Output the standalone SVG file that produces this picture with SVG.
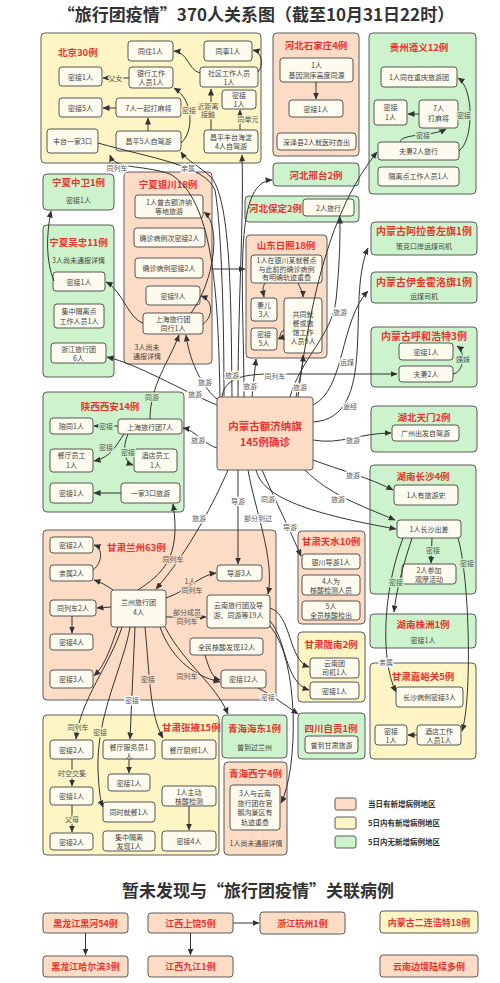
<svg xmlns="http://www.w3.org/2000/svg" width="500" height="983" viewBox="0 0 500 983">
<defs>
<marker id="a" markerWidth="7" markerHeight="6" refX="6.5" refY="3" orient="auto" markerUnits="userSpaceOnUse"><path d="M0,0 L7,3 L0,6 z" fill="#333"/></marker>
<style>
text{font-family:"Noto Sans CJK SC","Noto Sans",sans-serif}
.rp{fill:#fcdcc5;stroke:#5a5a5a;stroke-width:1}
.ry{fill:#fdf6c4;stroke:#5a5a5a;stroke-width:1}
.rg{fill:#ccf3cc;stroke:#5a5a5a;stroke-width:1}
.n{fill:#fdfbee;stroke:#555;stroke-width:1}
.t{font-size:7px;fill:#444;text-anchor:middle}
.h{font-size:9.5px;font-weight:bold;fill:#e8332e;text-anchor:middle}
.hs{text-anchor:start}
.hb{font-size:10px}
.l{font-size:7px;fill:#555;text-anchor:middle;paint-order:stroke;stroke-width:2.5px;stroke-linejoin:round}
.lw{stroke:#fff}.ly{stroke:#fdf6c4}.lp{stroke:#fcdcc5}.lg{stroke:#ccf3cc}
.c path{fill:none;stroke:#333;stroke-width:1;marker-end:url(#a)}
.c path.nm{marker-end:none}
.lg2{font-size:7.5px;font-weight:bold;fill:#333}
.b{font-size:9px;font-weight:bold;fill:#e8332e;text-anchor:middle}
</style>
</defs>
<rect width="500" height="983" fill="#fff"/>
<text x="256" y="21" font-size="17" font-weight="bold" fill="#333" text-anchor="middle">“旅行团疫情”370人关系图（截至10月31日22时）</text>

<!-- Beijing -->
<g id="beijing">
<rect class="ry" x="41" y="33" width="220" height="130" rx="4"/>
<text class="h hs" x="58" y="56">北京30例</text>
<g id="bj-tongzhu"><rect class="n" x="128" y="41" width="45" height="20" rx="3"/><text class="t" x="150.5" y="54">同住1人</text></g>
<g id="bj-tongshi"><rect class="n" x="204" y="41" width="48" height="20" rx="3"/><text class="t" x="228" y="54">同事1人</text></g>
<g id="bj-mj1a"><rect class="n" x="59" y="67" width="43" height="19" rx="3"/><text class="t" x="80.5" y="79.5">密接1人</text></g>
<g id="bj-yinhang"><rect class="n" x="129" y="67" width="44" height="21" rx="3"/><text class="t" x="151" y="76">银行工作</text><text class="t" x="151" y="85">人员1人</text></g>
<g id="bj-shequ"><rect class="n" x="200" y="67" width="58" height="20" rx="3"/><text class="t" x="229" y="75.5">社区工作人员</text><text class="t" x="229" y="84.5">1人</text></g>
<g id="bj-mj1b"><rect class="n" x="222" y="90" width="34" height="19" rx="3"/><text class="t" x="239" y="98">密接</text><text class="t" x="239" y="106.5">1人</text></g>
<g id="bj-mj5"><rect class="n" x="59" y="98" width="43" height="19" rx="3"/><text class="t" x="80.5" y="110.5">密接5人</text></g>
<g id="bj-majiang"><rect class="n" x="116" y="98" width="65" height="19" rx="3"/><text class="t" x="148.5" y="110.5">7人一起打麻将</text></g>
<g id="bj-fengtai"><rect class="n" x="47" y="129" width="51" height="24" rx="3"/><text class="t" x="72.5" y="144">丰台一家3口</text></g>
<g id="bj-changping"><rect class="n" x="116" y="131" width="65" height="20" rx="3"/><text class="t" x="148.5" y="144">昌平5人自驾游</text></g>
<g id="bj-cpft"><rect class="n" x="204" y="130" width="54" height="23" rx="3"/><text class="t" x="231" y="139.5">昌平丰台海淀</text><text class="t" x="231" y="149">4人自驾游</text></g>
</g>

<!-- Hebei Shijiazhuang -->
<g id="shijiazhuang">
<rect class="rp" x="273" y="33" width="86" height="123" rx="4"/>
<text class="h" x="316" y="49">河北石家庄4例</text>
<g id="sj-1"><rect class="n" x="280" y="58" width="73" height="24" rx="3"/><text class="t" x="316.5" y="67.5">1人</text><text class="t" x="316.5" y="78">基因测序高度同源</text></g>
<g id="sj-mj"><rect class="n" x="289" y="100" width="54" height="17" rx="3"/><text class="t" x="316" y="111.5">密接1人</text></g>
<g id="sj-sz"><rect class="n" x="277" y="133" width="79" height="17" rx="3"/><text class="t" x="316.5" y="144.5">深泽县2人就医时查出</text></g>
</g>

<!-- Guizhou -->
<g id="guizhou">
<rect class="rg" x="369" y="33" width="107" height="161" rx="4"/>
<text class="h" x="419" y="51">贵州遵义12例</text>
<g id="gz-cq"><rect class="n" x="381" y="67" width="76" height="20" rx="3"/><text class="t" x="419" y="80">1人同在重庆旅游团</text></g>
<g id="gz-mj"><rect class="n" x="374" y="100" width="33" height="25" rx="3"/><text class="t" x="390.5" y="110">密接</text><text class="t" x="390.5" y="120">1人</text></g>
<g id="gz-mjiang"><rect class="n" x="419" y="100" width="39" height="28" rx="3"/><text class="t" x="438.5" y="111">7人</text><text class="t" x="438.5" y="121">打麻将</text></g>
<g id="gz-fq"><rect class="n" x="378" y="142" width="81" height="18" rx="3"/><text class="t" x="418.5" y="154">夫妻2人旅行</text></g>
<g id="gz-gl"><rect class="n" x="378" y="167" width="81" height="19" rx="3"/><text class="t" x="418.5" y="179">隔离点工作人员1人</text></g>
</g>

<g id="xingtai"><rect class="rg" x="273" y="163" width="86" height="23" rx="4"/><text class="h" x="316" y="179">河北邢台2例</text></g>
<g id="baoding"><rect class="rg" x="245" y="196" width="114" height="26" rx="4"/><text class="h hs" x="249" y="212">河北保定2例</text>
<g id="bd-2"><rect class="n" x="303" y="199" width="51" height="17" rx="3"/><text class="t" x="328.5" y="210.5">2人旅行</text></g></g>

<!-- Ningxia -->
<g id="zhongwei"><rect class="rg" x="43" y="174" width="71" height="36" rx="4"/><text class="h" x="78.5" y="186">宁夏中卫1例</text><text class="t" x="78.5" y="203">密接1人</text></g>
<g id="wuzhong"><rect class="rg" x="43" y="225" width="71" height="152" rx="4"/><text class="h" x="78.5" y="246">宁夏吴忠11例</text><text class="t" x="78.5" y="263">3人尚未通报详情</text>
<g id="wz-mj"><rect class="n" x="53" y="272" width="52" height="19" rx="3"/><text class="t" x="79" y="284.5">密接1人</text></g>
<g id="wz-gl"><rect class="n" x="54" y="304" width="50" height="24" rx="3"/><text class="t" x="79" y="314">集中隔离点</text><text class="t" x="79" y="324">工作人员1人</text></g>
<g id="wz-zj"><rect class="n" x="51" y="343" width="55" height="20" rx="3"/><text class="t" x="78.5" y="351.5">浙江旅行团</text><text class="t" x="78.5" y="360.5">6人</text></g>
</g>
<g id="yinchuan"><rect class="rp" x="124" y="172" width="88" height="192" rx="4"/><text class="h" x="168" y="188">宁夏银川18例</text>
<g id="yc-1"><rect class="n" x="135" y="195" width="68" height="23" rx="3"/><text class="t" x="169" y="204.5">1人曾去额济纳</text><text class="t" x="169" y="214">等地旅游</text></g>
<g id="yc-2"><rect class="n" x="134" y="228" width="71" height="19" rx="3"/><text class="t" x="169.5" y="240.5">确诊病例次密接2人</text></g>
<g id="yc-3"><rect class="n" x="135" y="258" width="68" height="20" rx="3"/><text class="t" x="169" y="271">确诊病例密接2人</text></g>
<g id="yc-4"><rect class="n" x="146" y="286" width="54" height="19" rx="3"/><text class="t" x="173" y="298.5">密接9人</text></g>
<g id="yc-5"><rect class="n" x="143" y="313" width="60" height="21" rx="3"/><text class="t" x="173" y="321.5">上海旅行团</text><text class="t" x="173" y="330.5">同行1人</text></g>
<text class="t" x="147" y="350">3人尚未</text><text class="t" x="147" y="359">通报详情</text>
</g>

<!-- Shandong -->
<g id="shandong"><rect class="rp" x="246" y="235" width="81" height="123" rx="4"/><text class="h" x="286" y="249">山东日照18例</text>
<g id="sd-1"><rect class="n" x="251" y="255" width="71" height="28" rx="3"/><text class="t" x="286.5" y="263">1人在银川某就餐点</text><text class="t" x="286.5" y="271.5">与此前的确诊病例</text><text class="t" x="286.5" y="280">有明确轨迹重叠</text></g>
<g id="sd-2"><rect class="n" x="251" y="298" width="26" height="23" rx="3"/><text class="t" x="264" y="307.5">妻儿</text><text class="t" x="264" y="317">3人</text></g>
<g id="sd-3"><rect class="n" x="284" y="298" width="38" height="55" rx="3"/><text class="t" x="303" y="317">共同就</text><text class="t" x="303" y="326">餐或旅</text><text class="t" x="303" y="335">馆工作</text><text class="t" x="303" y="344">人员9人</text></g>
<g id="sd-4"><rect class="n" x="251" y="328" width="26" height="22" rx="3"/><text class="t" x="264" y="337">密接</text><text class="t" x="264" y="346">5人</text></g>
</g>

<!-- Inner Mongolia right -->
<g id="alashan"><rect class="rg" x="371" y="222" width="106" height="33" rx="4"/><text class="h hb" x="424" y="235">内蒙古阿拉善左旗1例</text><text class="t" x="424" y="249">策克口岸运煤司机</text></g>
<g id="yijinhuoluo"><rect class="rg" x="371" y="272" width="106" height="31" rx="4"/><text class="h hb" x="424" y="286">内蒙古伊金霍洛旗1例</text><text class="t" x="424" y="299">运煤司机</text></g>
<g id="huhehaote"><rect class="rg" x="371" y="327" width="106" height="60" rx="4"/><text class="h hb" x="424" y="340">内蒙古呼和浩特3例</text>
<g id="hh-mj"><rect class="n" x="399" y="343" width="54" height="17" rx="3"/><text class="t" x="426" y="354.5">密接1人</text></g>
<g id="hh-fq"><rect class="n" x="399" y="366" width="54" height="16" rx="3"/><text class="t" x="426" y="377">夫妻2人</text></g></g>
<g id="tianmen"><rect class="rg" x="371" y="406" width="106" height="46" rx="4"/><text class="h" x="424" y="421">湖北天门2例</text>
<g id="tm-gz"><rect class="n" x="392" y="425" width="67" height="16" rx="3"/><text class="t" x="425.5" y="436">广州出发自驾游</text></g></g>

<!-- Hunan -->
<g id="changsha"><rect class="rg" x="370" y="465" width="106" height="129" rx="4"/><text class="h" x="423" y="480">湖南长沙4例</text>
<g id="cs-1"><rect class="n" x="394" y="485" width="64" height="20" rx="3"/><text class="t" x="426" y="498">1人有旅游史</text></g>
<g id="cs-2"><rect class="n" x="397" y="520" width="64" height="18" rx="3"/><text class="t" x="429" y="532">1人长沙出差</text></g>
<g id="cs-3"><rect class="n" x="402" y="564" width="54" height="20" rx="3"/><text class="t" x="429" y="572.5">2人参加</text><text class="t" x="429" y="581.5">观摩活动</text></g></g>
<g id="zhuzhou"><rect class="rg" x="370" y="614" width="106" height="34" rx="4"/><text class="h" x="423" y="628">湖南株洲1例</text><text class="t" x="423" y="643">密接1人</text></g>
<g id="jiayuguan"><rect class="ry" x="370" y="663" width="106" height="96" rx="4"/><text class="h" x="423" y="680">甘肃嘉峪关5例</text>
<g id="jy-1"><rect class="n" x="396" y="687" width="67" height="20" rx="3"/><text class="t" x="429.5" y="700">长沙病例密接3人</text></g>
<g id="jy-2"><rect class="n" x="375" y="725" width="32" height="20" rx="3"/><text class="t" x="391" y="733.5">密接</text><text class="t" x="391" y="742.5">1人</text></g>
<g id="jy-3"><rect class="n" x="417" y="725" width="44" height="20" rx="3"/><text class="t" x="439" y="733.5">酒店工作</text><text class="t" x="439" y="742.5">人员1人</text></g></g>

<!-- Shaanxi -->
<g id="xian"><rect class="rg" x="43" y="392" width="141" height="120" rx="4"/><text class="h" x="110" y="410">陕西西安14例</text>
<g id="sx-pt"><rect class="n" x="50" y="418" width="43" height="16" rx="3"/><text class="t" x="71.5" y="429">陪同1人</text></g>
<g id="sx-sh"><rect class="n" x="118" y="419" width="64" height="15" rx="3"/><text class="t" x="150" y="429.5">上海旅行团7人</text></g>
<g id="sx-ct"><rect class="n" x="50" y="449" width="43" height="23" rx="3"/><text class="t" x="71.5" y="458">餐厅员工</text><text class="t" x="71.5" y="468">1人</text></g>
<g id="sx-jd"><rect class="n" x="134" y="449" width="43" height="23" rx="3"/><text class="t" x="155.5" y="458">酒店员工</text><text class="t" x="155.5" y="468">1人</text></g>
<g id="sx-mj"><rect class="n" x="50" y="483" width="43" height="20" rx="3"/><text class="t" x="71.5" y="496">密接1人</text></g>
<g id="sx-yj"><rect class="n" x="121" y="483" width="59" height="20" rx="3"/><text class="t" x="150.5" y="496">一家3口旅游</text></g></g>

<!-- Gansu Lanzhou -->
<g id="lanzhou"><rect class="rp" x="43" y="530" width="233" height="170" rx="4"/><text class="h hs" x="107" y="551">甘肃兰州63例</text>
<g id="lz-mj2"><rect class="n" x="50" y="537" width="43" height="16" rx="3"/><text class="t" x="71.5" y="548">密接2人</text></g>
<g id="lz-qs"><rect class="n" x="50" y="565" width="43" height="16" rx="3"/><text class="t" x="71.5" y="576">亲属2人</text></g>
<g id="lz-tlc"><rect class="n" x="50" y="600" width="46" height="16" rx="3"/><text class="t" x="73" y="611">同列车2人</text></g>
<g id="lz-mj4"><rect class="n" x="50" y="634" width="43" height="16" rx="3"/><text class="t" x="71.5" y="645">密接4人</text></g>
<g id="lz-mj3"><rect class="n" x="50" y="670" width="43" height="18" rx="3"/><text class="t" x="71.5" y="682">密接3人</text></g>
<g id="lz-lz"><rect class="n" x="111" y="590" width="55" height="37" rx="3"/><text class="t" x="138.5" y="605">兰州旅行团</text><text class="t" x="138.5" y="615">4人</text></g>
<g id="lz-dy"><rect class="n" x="217" y="565" width="45" height="16" rx="3"/><text class="t" x="239.5" y="576">导游3人</text></g>
<g id="lz-yn"><rect class="n" x="207" y="595" width="63" height="33" rx="3"/><text class="t" x="238.5" y="608">云南旅行团及导</text><text class="t" x="238.5" y="618">游、同游等19人</text></g>
<g id="lz-qm"><rect class="n" x="190" y="638" width="73" height="17" rx="3"/><text class="t" x="226.5" y="650">全民核酸发现12人</text></g>
<g id="lz-mj12"><rect class="n" x="221" y="670" width="45" height="18" rx="3"/><text class="t" x="243.5" y="682">密接12人</text></g></g>

<g id="tianshui"><rect class="rp" x="298" y="531" width="67" height="93" rx="4"/><text class="h" x="331" y="545">甘肃天水10例</text>
<g id="ts-1"><rect class="n" x="302" y="554" width="58" height="15" rx="3"/><text class="t" x="331" y="564.5">银川导游1人</text></g>
<g id="ts-2"><rect class="n" x="302" y="575" width="58" height="20" rx="3"/><text class="t" x="331" y="583.5">4人为</text><text class="t" x="331" y="592.5">核酸检测人员</text></g>
<g id="ts-3"><rect class="n" x="302" y="601" width="58" height="19" rx="3"/><text class="t" x="331" y="609">5人</text><text class="t" x="331" y="618">全员核酸检出</text></g></g>
<g id="longnan"><rect class="ry" x="298" y="632" width="67" height="70" rx="4"/><text class="h" x="331" y="648">甘肃陇南2例</text>
<g id="ln-1"><rect class="n" x="310" y="658" width="49" height="20" rx="3"/><text class="t" x="334.5" y="666">云南团</text><text class="t" x="334.5" y="675">司机1人</text></g>
<g id="ln-2"><rect class="n" x="310" y="682" width="49" height="17" rx="3"/><text class="t" x="334.5" y="693.5">密接1人</text></g></g>
<g id="zigong"><rect class="rg" x="298" y="713" width="67" height="46" rx="4"/><text class="h" x="331" y="732">四川自贡1例</text>
<g id="zg-1"><rect class="n" x="305" y="736" width="53" height="17" rx="3"/><text class="t" x="331.5" y="747.5">曾到甘肃旅游</text></g></g>
<g id="haidong"><rect class="rg" x="222" y="715" width="65" height="43" rx="4"/><text class="h" x="254.5" y="732">青海海东1例</text><text class="t" x="254.5" y="750">曾到过兰州</text></g>
<g id="xining"><rect class="rp" x="224" y="762" width="63" height="93" rx="4"/><text class="h" x="255.5" y="777">青海西宁4例</text>
<g id="xn-1"><rect class="n" x="230" y="785" width="50" height="45" rx="3"/><text class="t" x="255" y="796">3人与云南</text><text class="t" x="255" y="805.5">旅行团在官</text><text class="t" x="255" y="815">鹅沟景区有</text><text class="t" x="255" y="824.5">轨迹重叠</text></g>
<text class="t" x="256" y="846">1人尚未通报详情</text></g>

<!-- Zhangye -->
<g id="zhangye"><rect class="ry" x="43" y="715" width="176" height="140" rx="4"/><text class="h hs" x="162" y="731">甘肃张掖15例</text>
<g id="zy-1"><rect class="n" x="50" y="740" width="43" height="19" rx="3"/><text class="t" x="71.5" y="752.5">密接2人</text></g>
<g id="zy-2"><rect class="n" x="50" y="787" width="43" height="18" rx="3"/><text class="t" x="71.5" y="799">密接1人</text></g>
<g id="zy-3"><rect class="n" x="50" y="833" width="43" height="17" rx="3"/><text class="t" x="71.5" y="844.5">密接2人</text></g>
<g id="zy-4"><rect class="n" x="103" y="740" width="52" height="19" rx="3"/><text class="t" x="129" y="749.5">餐厅服务员1</text><text class="t" x="129" y="758.5">人</text></g>
<g id="zy-5"><rect class="n" x="108" y="774" width="42" height="17" rx="3"/><text class="t" x="129" y="785.5">密接1人</text></g>
<g id="zy-6"><rect class="n" x="103" y="802" width="52" height="20" rx="3"/><text class="t" x="129" y="815">同时就餐1人</text></g>
<g id="zy-7"><rect class="n" x="103" y="831" width="52" height="20" rx="3"/><text class="t" x="129" y="839.5">集中隔离</text><text class="t" x="129" y="848.5">发现1人</text></g>
<g id="zy-8"><rect class="n" x="162" y="740" width="54" height="19" rx="3"/><text class="t" x="189" y="752.5">餐厅厨师1人</text></g>
<g id="zy-9"><rect class="n" x="162" y="786" width="54" height="20" rx="3"/><text class="t" x="189" y="794.5">1人主动</text><text class="t" x="189" y="803.5">核酸检测</text></g>
<g id="zy-10"><rect class="n" x="162" y="831" width="54" height="20" rx="3"/><text class="t" x="189" y="844">密接4人</text></g></g>

<!-- connectors -->
<g id="connectors" class="c">
<path d="M129,78 L103,78"/>
<path d="M200,73 C188,70 188,52 174,51"/>
<path d="M258,72 C264,65 262,52 253,50"/>
<path d="M211,130 L211,89"/>
<path d="M240,130 L240,110"/>
<path d="M148,131 L148,118"/>
<path d="M116,108 L103,108"/>
<path d="M181,143 C194,132 194,100 174,88"/>
<path d="M316,82 L316,99"/>
<path d="M419,114 L408,114"/>
<path d="M400,142 C402,133 432,137 446,129"/>
<path d="M459,151 C474,140 474,88 458,78"/>
<path d="M54,281 C46,262 46,236 51,211"/>
<path d="M203,324 C214,316 213,300 201,296"/>
<path d="M143,323 C128,318 122,290 106,282"/>
<path d="M191,313 C214,282 222,226 204,212"/>
<path d="M212,269 L245,269"/>
<path d="M265,283 C262,288 263,292 264,297"/>
<path d="M298,283 C300,288 303,292 303,297"/>
<path d="M284,330 C279,332 281,338 278,339"/>
<path d="M453,374 C464,372 466,352 457,346"/>
<path d="M118,426 L94,426"/>
<path d="M124,434 C116,446 110,458 94,461"/>
<path d="M128,434 C122,448 124,462 133,465"/>
<path d="M121,493 L94,493"/>
<path d="M150,419 C150,385 170,360 179,335"/>
<path d="M166,598 C185,592 200,575 216,573"/>
<path d="M166,617 L206,617"/>
<path d="M205,655 C209,668 212,678 220,680"/>
<path d="M113,590 C106,585 100,582 94,580"/>
<path d="M93,570 C103,562 103,548 94,545"/>
<path d="M111,607 L97,608"/>
<path d="M72,616 L72,633"/>
<path d="M118,627 C110,650 105,665 94,676"/>
<path d="M138,590 C160,575 182,560 173,504"/>
<path d="M160,627 C170,655 190,675 220,682"/>
<path d="M165,627 C185,665 215,683 228,714"/>
<path d="M122,627 C110,665 80,700 76,739"/>
<path d="M130,627 C124,665 96,715 98,770 C99,790 100,800 103,807"/>
<path d="M135,627 L130,739"/>
<path d="M145,627 C150,680 150,715 163,738"/>
<path d="M270,608 C292,615 288,660 309,667"/>
<path d="M270,621 C287,640 284,682 309,690"/>
<path d="M258,688 C272,695 285,705 298,714"/>
<path d="M270,626 C300,660 298,770 281,803"/>
<path d="M72,759 L72,786"/>
<path d="M72,805 L72,832"/>
<path d="M129,759 L129,773"/>
<path d="M189,806 L189,830"/>
<path d="M432,538 L431,563"/>
<path d="M412,538 C405,560 397,585 394,612"/>
<path d="M458,538 C470,580 472,700 462,731"/>
<path d="M403,538 C383,590 380,660 396,692"/>
<path d="M417,735 L408,735"/>
<path class="nm" d="M98,143 C150,158 205,165 215,190 C222,230 224,330 224,396"/>
<path d="M220,397 C218,300 215,200 170,174 C140,164 115,170 110,155"/>
<path d="M232,397 C231,300 231,205 212,178 C198,165 186,160 181,152"/>
<path d="M238,397 C238,300 244,220 242,155"/>
<path d="M244,397 C244,290 232,182 272,180"/>
<path d="M290,397 C300,360 332,335 336,300 C340,260 340,240 340,217"/>
<path d="M298,397 C310,300 330,210 377,152"/>
<path d="M252,397 L256,359"/>
<path d="M296,397 C299,380 303,368 303,355"/>
<path d="M222,397 C224,380 240,374 270,374 L397,374"/>
<path d="M313,422 C380,418 345,300 368,248"/>
<path d="M313,405 C345,390 340,320 368,291"/>
<path d="M313,440 C340,445 360,433 391,433"/>
<path d="M313,460 C340,470 370,478 393,490"/>
<path d="M305,470 C330,495 360,505 395,520"/>
<path d="M256,470 C262,495 300,512 396,529"/>
<path d="M217,405 C180,390 140,365 107,357"/>
<path d="M217,399 C205,390 190,365 186,335"/>
<path d="M217,448 C205,445 195,430 183,428"/>
<path d="M228,470 C215,500 190,550 156,589"/>
<path d="M238,470 L238,564"/>
<path d="M248,470 C255,510 275,560 268,594"/>
<path d="M262,470 C275,500 290,530 301,556"/>
<text class="l ly" x="115.5" y="80.5">父女</text>
<text class="l ly" x="189" y="113">密接</text>
<text class="l ly" x="208" y="108.5">近距离</text>
<text class="l ly" x="208" y="117">接触</text>
<text class="l ly" x="248" y="122">同单元</text>
<text class="l lw" x="117" y="171">同列车</text>
<text class="l lw" x="188" y="171">亲属</text>
<text class="l lg" x="423" y="138">密接</text>
<text class="l lg" x="464" y="118">密接</text>
<text class="l lg" x="463" y="362">姨妹</text>
<text class="l lg" x="152" y="400">同游</text>
<text class="l lg" x="106" y="428.5">密接</text>
<text class="l lg" x="106" y="450">密接</text>
<text class="l lg" x="128" y="455">密接</text>
<text class="l lw" x="232" y="378">旅游</text>
<text class="l lw" x="250" y="389">旅游</text>
<text class="l lw" x="300" y="390">旅游</text>
<text class="l lw" x="205" y="385">旅游</text>
<text class="l lw" x="195" y="397">旅游</text>
<text class="l lw" x="198" y="443">旅游</text>
<text class="l lw" x="275" y="379">同列车</text>
<text class="l lw" x="347" y="365">运煤</text>
<text class="l lw" x="350" y="409">途经</text>
<text class="l lw" x="340" y="315">旅游</text>
<text class="l lw" x="353" y="443">旅游</text>
<text class="l lw" x="353" y="478">旅游</text>
<text class="l lw" x="338" y="502">旅游</text>
<text class="l lw" x="268" y="502">同游</text>
<text class="l lw" x="199" y="521">旅游</text>
<text class="l lw" x="238" y="504">导游</text>
<text class="l lw" x="258" y="521">部分到过</text>
<text class="l lw" x="290" y="530">导游</text>
<text class="l lp" x="173" y="562">同列车</text>
<text class="l lp" x="190" y="584">1人</text>
<text class="l lp" x="192" y="593">同列车</text>
<text class="l lp" x="187" y="615">部分成员</text>
<text class="l lp" x="187" y="624">同列车</text>
<text class="l lp" x="187" y="679">同列车</text>
<text class="l lp" x="148" y="682">密接</text>
<text class="l lw" x="132" y="703">密接</text>
<text class="l lw" x="268" y="700">密接</text>
<text class="l lw" x="386" y="665">亲属</text>
<text class="l ly" x="78" y="730">同列车</text>
<text class="l ly" x="100" y="735">密接</text>
<text class="l ly" x="72" y="776">时空交集</text>
<text class="l ly" x="72" y="822">父母</text>
<text class="l lg" x="433" y="553">密接</text>
<text class="l lg" x="396" y="585">密接</text>
<text class="l lg" x="467" y="566">密接</text>
</g>

<!-- center -->
<g id="ejina"><rect class="rp" x="217" y="397" width="96" height="73" rx="3"/><text x="265" y="429.5" font-size="10.5" font-weight="bold" fill="#e8332e" text-anchor="middle">内蒙古额济纳旗</text><text x="265" y="446" font-size="10.5" font-weight="bold" fill="#e8332e" text-anchor="middle">145例确诊</text></g>

<!-- legend -->
<g id="legend">
<rect class="rp" x="335" y="798" width="21" height="12" rx="2"/><text class="lg2" x="368" y="807">当日有新增病例地区</text>
<rect class="ry" x="335" y="817" width="21" height="12" rx="2"/><text class="lg2" x="368" y="826">5日内有新增病例地区</text>
<rect class="rg" x="335" y="836" width="21" height="12" rx="2"/><text class="lg2" x="368" y="845">5日内无新增病例地区</text>
</g>

<text x="258" y="897" font-size="17" font-weight="bold" fill="#333" text-anchor="middle">暂未发现与“旅行团疫情”关联病例</text>
<g id="heihe"><rect class="rp" x="43" y="913" width="85" height="20" rx="3"/><text class="b" x="85.5" y="926.5">黑龙江黑河54例</text></g>
<g id="haerbin"><rect class="rp" x="43" y="956" width="85" height="21" rx="3"/><text class="b" x="85.5" y="970">黑龙江哈尔滨3例</text></g>
<g id="shangrao"><rect class="rp" x="148" y="913" width="85" height="20" rx="3"/><text class="b" x="190.5" y="926.5">江西上饶5例</text></g>
<g id="jiujiang"><rect class="rp" x="148" y="956" width="85" height="21" rx="3"/><text class="b" x="190.5" y="970">江西九江1例</text></g>
<g id="hangzhou"><rect class="rp" x="260" y="912" width="85" height="22" rx="3"/><text class="b" x="302.5" y="926.5">浙江杭州1例</text></g>
<g id="erlian"><rect class="ry" x="380" y="911" width="98" height="22" rx="3"/><text class="b" x="429" y="925.5">内蒙古二连浩特18例</text></g>
<g id="yunnan"><rect class="rp" x="380" y="955" width="98" height="22" rx="3"/><text class="b" x="429" y="969.5">云南边境陆续多例</text></g>
<g id="bottom-connectors" class="c">
<path d="M85.5,933 L85.5,955"/>
<path d="M190.5,933 L190.5,955"/>
<path d="M233,923 L259,923"/>
</g>
</svg>
